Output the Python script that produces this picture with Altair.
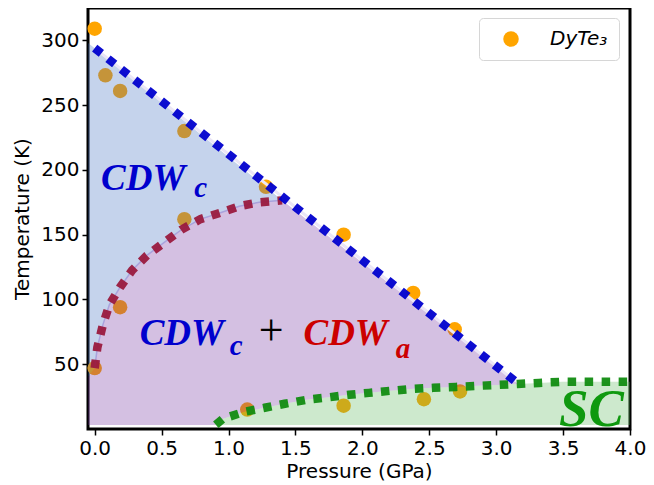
import altair as alt
import pandas as pd

# ---------------- data ----------------
# DyTe3 measured transition temperatures
dyte3_P = [0.00, 0.08, 0.19, 0.67, 1.28, 0.67, 1.86, 2.38, 2.69, 0.19, 0.00, 1.14, 1.86, 2.46, 2.73]
dyte3_T = [309, 273, 261, 230, 187, 162, 150, 105, 77, 94, 47, 15, 18, 23, 29]

# CDW_c phase boundary (blue dotted)
cdwc_P = [0.00, 3.14]
cdwc_T = [294, 37]

# CDW_a phase boundary (red dotted)
cdwa_P = [0.00, 0.02, 0.06, 0.11, 0.19, 0.28, 0.39, 0.52, 0.65, 0.79, 0.94, 1.08, 1.23, 1.40]
cdwa_T = [47, 63, 80, 96, 109.5, 122.5, 134, 144, 154, 162, 167, 172, 175, 176.5]

# SC phase boundary (green dotted)
sc_P = [0.905, 0.96, 1.12, 1.27, 1.42, 1.58, 1.75, 1.90, 2.05, 2.21, 2.38, 2.53, 2.70,
        2.86, 3.01, 3.16, 3.32, 3.49, 3.64, 3.81, 3.97, 4.00]
sc_T = [3.3, 8, 13.3, 16.4, 19.5, 22.5, 24.5, 26.4, 27.9, 29.5, 31, 31.8, 32.5,
        33.3, 34, 34.8, 35.6, 36.4, 36.4, 36.4, 36.4, 36.4]

# region fill edges (left frame, bottom)
x_min, x_max = -0.05, 4.0
edge_top_T = 298
edge_red_T = 40
base_T = 3

x_ticks = [0.0, 0.5, 1.0, 1.5, 2.0, 2.5, 3.0, 3.5, 4.0]
y_ticks = [50, 100, 150, 200, 250, 300]

# text labels
lab_text = ["CDW", "c", "CDW", "c", "CDW", "a", "SC"]
lab_P = [0.047, 0.744, 0.336, 1.01, 1.56, 2.25, 3.47]
lab_T = [184.5, 179, 65, 57, 65, 55, 2.3]
lab_color = ["#0000cd", "#0000cd", "#0000cd", "#0000cd", "#cc0000", "#cc0000", "#0f990f"]
lab_size = [37, 29, 37, 29, 37, 29, 53]

# ---------------- tables ----------------
pts = pd.DataFrame({"P": dyte3_P, "T": dyte3_T, "s": ["DyTe\u2083"] * len(dyte3_P)})
line_c = pd.DataFrame({"P": cdwc_P, "T": cdwc_T})
line_a = pd.DataFrame({"P": cdwa_P, "T": cdwa_T})
line_sc = pd.DataFrame({"P": sc_P, "T": sc_T})


def poly(vertices):
    return pd.DataFrame({"P": [v[0] for v in vertices],
                         "T": [v[1] for v in vertices],
                         "i": list(range(len(vertices)))})


red_pts = list(zip(cdwa_P, cdwa_T))
sc_pts = list(zip(sc_P, sc_T))
blue_poly = poly([(x_min, edge_top_T), (cdwc_P[0], cdwc_T[0])] + red_pts[::-1] + [(x_min, edge_red_T)])
sc_before = [p for p in sc_pts if p[0] <= 3.2]
purple_poly = poly([(x_min, edge_red_T)] + red_pts + [(cdwc_P[1], cdwc_T[1])] + sc_before[::-1]
                   + [(sc_P[0], base_T), (x_min, base_T)])
green_poly = poly(sc_pts + [(x_max, base_T), (sc_P[0], base_T)])

labels = pd.DataFrame({"P": lab_P, "T": lab_T, "text": lab_text, "c": lab_color, "z": lab_size})
plus = pd.DataFrame({"P": [1.226], "T": [64.5], "text": ["+"]})

FONT = "DejaVu Sans"
X = alt.X("P:Q", scale=alt.Scale(domain=[x_min, x_max], nice=False, zero=False),
          axis=alt.Axis(values=x_ticks, format=".1f", title="Pressure (GPa)", titlePadding=3))
Y = alt.Y("T:Q", scale=alt.Scale(domain=[0, 325], nice=False, zero=False),
          axis=alt.Axis(values=y_ticks, title="Temperature (K)", titlePadding=8))

points = alt.Chart(pts).mark_point(filled=True, shape="circle", size=210, opacity=1).encode(
    x=X, y=Y,
    color=alt.Color("s:N", scale=alt.Scale(range=["#ffa500"]),
                    legend=alt.Legend(title=None, orient="none", legendX=391, legendY=10,
                                      padding=11, symbolOffset=11, labelOffset=29,
                                      symbolSize=240, symbolType="circle",
                                      labelFont=FONT, labelFontStyle="italic", labelFontSize=20,
                                      labelColor="black", strokeColor="#d6d6d6",
                                      fillColor="white", cornerRadius=4)))


def fill_layer(df, color):
    return alt.Chart(df).mark_line(fill=color, strokeWidth=0, strokeOpacity=0).encode(
        x=X, y=Y, order=alt.Order("i:Q"))


fills = [fill_layer(blue_poly, "rgba(62,108,192,0.3)"),
         fill_layer(purple_poly, "rgba(112,45,158,0.3)"),
         fill_layer(green_poly, "rgba(88,182,88,0.3)")]

edge_c = alt.Chart(line_c).mark_line(color="#ebe6f6", strokeWidth=3).encode(x=X, y=Y)
edge_a = alt.Chart(line_a).mark_line(color="#a9a2dc", strokeWidth=1.5).encode(x=X, y=Y)


def dotted(df, color):
    return alt.Chart(df).mark_line(color=color, strokeWidth=8.5, strokeDash=[8.5, 8.5],
                                   strokeCap="butt", opacity=0.95).encode(x=X, y=Y)


dots = [dotted(line_a, "#9a1a3e"), dotted(line_sc, "#118c11"), dotted(line_c, "#0000cd")]

texts = alt.Chart(labels).mark_text(font="Liberation Serif", fontStyle="italic", fontWeight="bold",
                                    align="left", baseline="alphabetic").encode(
    x=X, y=Y, text="text:N",
    color=alt.Color("c:N", scale=None), size=alt.Size("z:Q", scale=None))
plus_t = alt.Chart(plus).mark_text(font="Liberation Serif", fontSize=44, color="black",
                                   align="left", baseline="alphabetic").encode(x=X, y=Y, text="text:N")

chart = alt.layer(points, *fills, edge_c, edge_a, *dots, texts, plus_t).properties(
    width=542, height=421,
    autosize=alt.AutoSizeParams(type="none"),
    padding={"left": 80, "top": 0, "right": 16, "bottom": 55},
).configure_view(stroke="black", strokeWidth=3).configure_axis(
    labelFont=FONT, titleFont=FONT, labelFontSize=20, titleFontSize=20,
    titleFontWeight="normal", labelColor="black", titleColor="black",
    tickColor="black", tickSize=6, tickWidth=1.5, domain=False, grid=False,
    labelFlush=False, labelPadding=3,
)

chart.save("out.html", embed_options={"renderer": "svg", "actions": False})
